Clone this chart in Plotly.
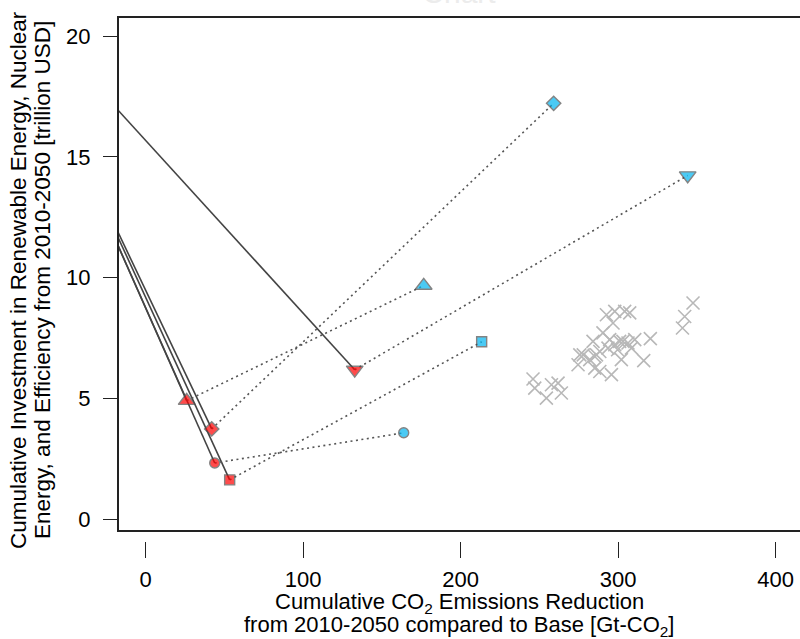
import plotly.graph_objects as go

# ---------------- data ----------------
symbols = ["triangle-up", "diamond", "circle", "square", "triangle-down"]
red_x = [26.0, 41.9, 43.8, 53.3, 132.7]
red_y = [4.90, 3.73, 2.32, 1.62, 6.18]
blue_x = [176.5, 259.0, 163.8, 213.3, 344.1]
blue_y = [9.67, 17.22, 3.57, 7.34, 14.23]
# solid lines from the red points back towards the y axis (value at x = -20)
line_start_x = -20
line_start_y = [11.68, 12.21, 11.68, 12.01, 17.11]

gray_x = [347.5, 342.2, 340.8, 320.4, 316.2, 292.5, 297.8, 304.1, 296.7, 290.3,
          284.0, 294.6, 300.9, 303.0, 306.2, 310.5, 308.4, 302.0, 293.5, 288.3,
          285.1, 275.6, 274.5, 281.9, 285.1, 288.3, 295.7, 245.9, 247.0, 254.4,
          257.6, 261.8, 263.9, 277.8, 286.2, 299.6, 297.8, 307.3]
gray_y = [8.95, 8.39, 7.91, 7.47, 6.56, 8.46, 8.60, 8.60, 8.12, 7.71,
          7.36, 7.43, 7.36, 7.36, 7.29, 7.43, 7.08, 6.60, 7.08, 6.94,
          6.73, 6.80, 6.39, 6.60, 6.25, 6.11, 5.98, 5.80, 5.42, 5.01,
          5.56, 5.63, 5.22, 6.80, 6.80, 7.01, 7.22, 8.54]

x_ticks = [0, 100, 200, 300, 400]
y_ticks = [0, 5, 10, 15, 20]

x_title = ["Cumulative CO<sub>2</sub> Emissions Reduction",
           "from 2010-2050 compared to Base [Gt-CO<sub>2</sub>]"]
y_title = ["Cumulative Investment in Renewable Energy, Nuclear",
           "Energy, and Efficiency from 2010-2050 [trillion USD]"]

red_sizes = [14.5, 11, 10, 10, 14.5]
blue_sizes = [14.5, 11, 10, 10, 14.5]

RED = "#ff0000"
BLUE = "#00b4f0"
EDGE = "#505050"
FONT = "Liberation Sans, Arial, sans-serif"

fig = go.Figure()

# solid lines
for i in range(len(red_x)):
    fig.add_trace(go.Scatter(
        x=[line_start_x, red_x[i]], y=[line_start_y[i], red_y[i]],
        mode="lines", line=dict(color="#444444", width=1.6),
        hoverinfo="skip", showlegend=False))

# dotted connectors
for i in range(len(red_x)):
    fig.add_trace(go.Scatter(
        x=[red_x[i], blue_x[i]], y=[red_y[i], blue_y[i]],
        mode="lines", line=dict(color="#555555", width=1.6, dash="2px,3.5px"),
        hoverinfo="skip", showlegend=False))

# gray crosses
fig.add_trace(go.Scatter(
    x=gray_x, y=gray_y, mode="markers",
    marker=dict(symbol="x-thin", size=13, line=dict(color="#b8b8b8", width=1.6)),
    showlegend=False))

# red and blue markers
fig.add_trace(go.Scatter(
    x=red_x, y=red_y, mode="markers",
    marker=dict(symbol=symbols, size=red_sizes, color=RED,
                line=dict(color=EDGE, width=1.4)),
    showlegend=False))
fig.add_trace(go.Scatter(
    x=blue_x, y=blue_y, mode="markers",
    marker=dict(symbol=symbols, size=blue_sizes, color=BLUE,
                line=dict(color=EDGE, width=1.4)),
    showlegend=False))

W, H = 800, 639
left, right_px, top, bottom_px = 118, 800, 17, 541
frame_bottom_px = 531

x0_val = -17.6
px_per_x = 1.575
x1_val = x0_val + (right_px - left) / px_per_x
px_per_y = 24.14
zero_px = 519
y_top_val = (zero_px - top) / px_per_y
y_bot_val = (zero_px - bottom_px) / px_per_y

annotations = []
for text, ypx in zip(x_title, [603, 626]):
    annotations.append(dict(text=text, xref="paper", x=0.5, yref="paper",
                            y=-(ypx - bottom_px) / (bottom_px - top),
                            xanchor="center", yanchor="middle", showarrow=False,
                            font=dict(size=22, family=FONT, color="black")))
for text, xpx in zip(y_title, [18, 42]):
    annotations.append(dict(text=text, xref="paper", x=-(left - xpx) / (right_px - left),
                            yref="paper", y=(bottom_px - 280) / (bottom_px - top),
                            xanchor="center", yanchor="middle", textangle=-90,
                            showarrow=False,
                            font=dict(size=22.5, family=FONT, color="black")))

fig.update_layout(
    width=W, height=H,
    margin=dict(l=left, r=W - right_px, t=top, b=H - bottom_px, pad=0, autoexpand=False),
    paper_bgcolor="white", plot_bgcolor="white",
    font=dict(family=FONT, color="black"),
    title=dict(text="Chart", x=0.5, xref="paper", y=0.995, yref="container",
               yanchor="bottom", font=dict(size=30, color="#ececec"), automargin=False),
    xaxis=dict(range=[x0_val, x1_val], tickvals=x_ticks, ticktext=[str(v) for v in x_ticks],
               showgrid=False, zeroline=False, showline=False, automargin=False,
               ticks="outside", ticklen=16, tickwidth=1.3, tickcolor="#222",
               tickfont=dict(size=22), ticklabelstandoff=3),
    yaxis=dict(range=[y_bot_val, y_top_val], tickvals=y_ticks, ticktext=[str(v) for v in y_ticks],
               showgrid=False, zeroline=False, showline=False, automargin=False,
               ticks="outside", ticklen=14, tickwidth=1.3, tickcolor="#222",
               tickfont=dict(size=22), ticklabelstandoff=8),
    annotations=annotations,
    shapes=[dict(type="rect", xref="paper", yref="paper",
                 x0=0, x1=1.02,
                 y0=(bottom_px - frame_bottom_px) / (bottom_px - top), y1=1,
                 line=dict(color="#222222", width=2), fillcolor="rgba(0,0,0,0)",
                 layer="above")],
)

fig.write_html("out.html", config={"displayModeBar": False},
               post_script="document.body.style.margin='0px';document.body.style.overflow='hidden';")
